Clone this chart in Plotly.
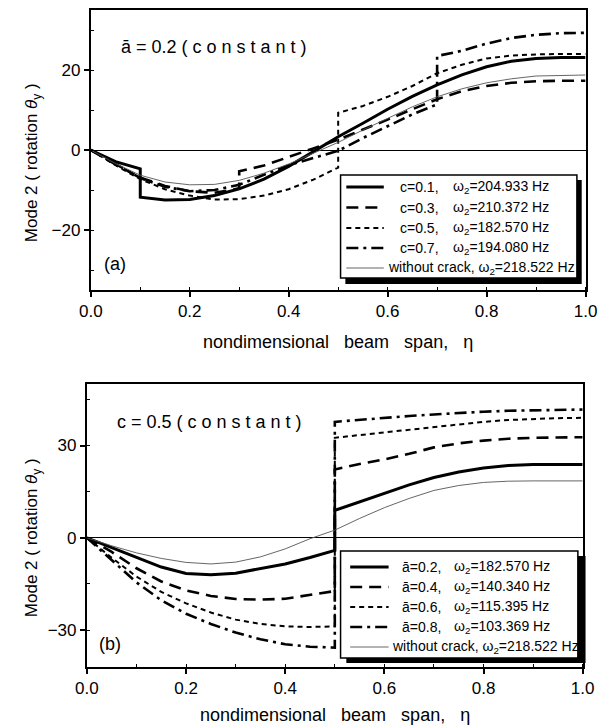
import plotly.graph_objects as go

# ---------------- data ----------------
ETA = [0.0, 0.05, 0.1, 0.15, 0.2, 0.25, 0.3, 0.35, 0.4, 0.45, 0.5,
       0.55, 0.6, 0.65, 0.7, 0.75, 0.8, 0.85, 0.9, 0.95, 1.0]

# Panel (a): a = 0.2 constant, crack location c varies
A_C01_X = [0.0, 0.05, 0.1, 0.1, 0.15, 0.2, 0.25, 0.3, 0.35, 0.4, 0.45, 0.5,
           0.55, 0.6, 0.65, 0.7, 0.75, 0.8, 0.85, 0.9, 0.95, 1.0]
A_C01_Y = [0, -2.9, -4.7, -11.8, -12.5, -12.4, -11.4, -9.7, -7.3, -4.1, -0.4, 3.3,
           6.7, 10.2, 13.4, 16.3, 18.8, 20.8, 22.2, 22.9, 23.1, 23.1]

A_C03_X = [0.0, 0.05, 0.1, 0.15, 0.2, 0.25, 0.3, 0.3, 0.35, 0.4, 0.45, 0.5,
           0.55, 0.6, 0.65, 0.7, 0.75, 0.8, 0.85, 0.9, 0.95, 1.0]
A_C03_Y = [0, -3.6, -6.9, -9.0, -10.3, -10.7, -9.6, -5.3, -3.9, -1.8, 0.4, 2.6,
           5.0, 7.6, 10.2, 12.7, 14.7, 16.0, 16.8, 17.2, 17.3, 17.3]

A_C05_X = [0.0, 0.05, 0.1, 0.15, 0.2, 0.25, 0.3, 0.35, 0.4, 0.45, 0.5, 0.5,
           0.55, 0.6, 0.65, 0.7, 0.75, 0.8, 0.85, 0.9, 0.95, 1.0]
A_C05_Y = [0, -3.8, -7.3, -9.8, -11.4, -12.4, -12.3, -11.4, -9.8, -7.4, -4.4, 9.3,
           11.0, 13.3, 16.0, 19.2, 21.3, 22.9, 23.6, 23.9, 24.0, 24.0]

A_C07_X = [0.0, 0.05, 0.1, 0.15, 0.2, 0.25, 0.3, 0.35, 0.4, 0.45, 0.5,
           0.55, 0.6, 0.65, 0.7, 0.7, 0.75, 0.8, 0.85, 0.9, 0.95, 1.0]
A_C07_Y = [0, -3.6, -7.0, -9.2, -10.3, -10.0, -8.7, -6.2, -3.8, -2.0, -0.2,
           3.0, 6.0, 8.9, 11.4, 23.5, 24.8, 26.6, 28.0, 28.8, 29.2, 29.3]

A_NOCRACK_Y = [0, -3.4, -6.3, -8.0, -8.7, -8.6, -7.6, -5.8, -3.5, -0.8, 1.9,
               5.0, 8.0, 10.8, 13.3, 15.3, 16.8, 17.8, 18.5, 18.7, 18.75]

A_LABELS = ["c=0.1,", "c=0.3,", "c=0.5,", "c=0.7,"]
A_FREQS = ["204.933", "210.372", "182.570", "194.080"]

# Panel (b): c = 0.5 constant, crack depth a varies
B_X = [0.0, 0.05, 0.1, 0.15, 0.2, 0.25, 0.3, 0.35, 0.4, 0.45, 0.5, 0.5,
       0.55, 0.6, 0.65, 0.7, 0.75, 0.8, 0.85, 0.9, 0.95, 1.0]
B_A02_Y = [0, -3.2, -6.5, -9.5, -11.6, -12.0, -11.5, -10.1, -8.5, -6.4, -4.1, 8.9,
           11.6, 14.4, 17.2, 19.6, 21.4, 22.7, 23.5, 23.8, 23.8, 23.8]
B_A04_Y = [0, -4.6, -9.9, -14.2, -17.1, -18.9, -19.9, -20.1, -19.8, -18.6, -17.3, 22.2,
           24.0, 25.5, 27.3, 29.4, 30.7, 31.6, 32.2, 32.5, 32.7, 32.7]
B_A06_Y = [0, -6.5, -12.6, -17.6, -21.3, -24.3, -26.6, -28.0, -28.8, -29.0, -28.8, 32.5,
           33.4, 34.3, 35.2, 36.1, 37.0, 37.7, 38.3, 38.7, 38.9, 39.0]
B_A08_Y = [0, -7.4, -14.5, -20.3, -24.7, -28.0, -30.8, -33.0, -34.6, -35.4, -35.7, 37.7,
           38.4, 39.0, 39.6, 40.1, 40.6, 41.0, 41.3, 41.5, 41.7, 41.7]
B_NOCRACK_Y = [0, -2.6, -4.9, -6.7, -8.0, -8.5, -7.9, -6.2, -3.6, -0.3, 2.5,
               6.3, 9.8, 12.8, 15.4, 17.0, 18.0, 18.4, 18.5, 18.5, 18.5]

B_LABELS = ["ā=0.2,", "ā=0.4,", "ā=0.6,", "ā=0.8,"]
B_FREQS = ["182.570", "140.340", "115.395", "103.369"]

NOCRACK_FREQ = "218.522"

X_TICKS = [0.0, 0.2, 0.4, 0.6, 0.8, 1.0]
A_Y_TICKS = [-20, 0, 20]
B_Y_TICKS = [-30, 0, 30]

# ---------------- layout helpers ----------------
OFF = 0          # body margin removed by post_script below
W, H = 611, 725
def fx(px):
    return (px - OFF) / W
def fy(py):
    return 1 - (py - OFF) / H

FONT = "Liberation Sans, Arial, sans-serif"
STYLES = [dict(color="black", width=3, dash="solid"),
          dict(color="black", width=2.6, dash="12px,7px"),
          dict(color="black", width=2, dash="5px,4px"),
          dict(color="black", width=2.6, dash="12px,5px,3px,5px"),
          dict(color="#555555", width=0.9, dash="solid")]

fig = go.Figure()

a_series = [(A_C01_X, A_C01_Y), (A_C03_X, A_C03_Y), (A_C05_X, A_C05_Y),
            (A_C07_X, A_C07_Y), (ETA, A_NOCRACK_Y)]
a_names = [f"{l} ω2={f} Hz" for l, f in zip(A_LABELS, A_FREQS)] + \
          [f"without crack, ω2={NOCRACK_FREQ} Hz"]
for (xs, ys), name, st in zip(a_series, a_names, STYLES):
    fig.add_trace(go.Scatter(x=xs, y=ys, mode="lines", name=name, line=st,
                             xaxis="x", yaxis="y", showlegend=False))

b_series = [(B_X, B_A02_Y), (B_X, B_A04_Y), (B_X, B_A06_Y), (B_X, B_A08_Y),
            (ETA, B_NOCRACK_Y)]
b_names = [f"{l} ω2={f} Hz" for l, f in zip(B_LABELS, B_FREQS)] + \
          [f"without crack, ω2={NOCRACK_FREQ} Hz"]
for (xs, ys), name, st in zip(b_series, b_names, STYLES):
    fig.add_trace(go.Scatter(x=xs, y=ys, mode="lines", name=name, line=st,
                             xaxis="x2", yaxis="y2", showlegend=False))

def xaxis(dom, anchor):
    return dict(domain=dom, anchor=anchor, range=[0, 1], tickvals=X_TICKS,
                ticktext=[f"{v:.1f}" for v in X_TICKS], ticks="outside", ticklen=5,
                tickwidth=1.5, tickcolor="black", showline=True, linewidth=2,
                linecolor="black", mirror=True, showgrid=False, zeroline=False,
                tickfont=dict(family=FONT, size=17, color="black"),
                minor=dict(dtick=0.1, tick0=0, ticks="inside", ticklen=3,
                           tickcolor="black", tickwidth=1))

def yaxis(dom, anchor, rng, ticks, mdt):
    return dict(domain=dom, anchor=anchor, range=rng, tickvals=ticks,
                ticks="outside", ticklen=5, tickwidth=1.5, tickcolor="black",
                showline=True, linewidth=2, linecolor="black", mirror=True,
                showgrid=False, zeroline=True, zerolinecolor="black",
                zerolinewidth=1, tickfont=dict(family=FONT, size=17, color="black"),
                minor=dict(dtick=mdt, tick0=0, ticks="inside", ticklen=3,
                           tickcolor="black", tickwidth=1))

ann = []
def text(t, px, py, size=17, xanchor="left", angle=0):
    ann.append(dict(text=t, x=fx(px), y=fy(py), xref="paper", yref="paper",
                    xanchor=xanchor, yanchor="middle", showarrow=False,
                    textangle=angle, font=dict(family=FONT, size=size, color="black")))

text("ā = 0.2 ( c o n s t a n t )", 111, 47, size=18)
text("(a)", 107, 264, size=18, xanchor="center")
text("c = 0.5 ( c o n s t a n t )", 107, 422, size=18)
text("(b)", 102, 644, size=18, xanchor="center")
SP = "\u00a0\u00a0\u00a0"
XT = f"nondimensional{SP}beam{SP}span,{SP}η"
text(XT, 339, 342, size=18, xanchor="center")
text(XT, 336, 715, size=18, xanchor="center")
YT = "Mode 2 ( rotation <i>θ</i><sub>y</sub> )"
text(YT, 22, 163, xanchor="center", angle=-90)
text(YT, 22, 538, xanchor="center", angle=-90)

shapes = []
def rect(x0, x1, y0, y1, fill, lw=0):
    shapes.append(dict(type="rect", xref="paper", yref="paper",
                       x0=fx(x0), x1=fx(x1), y0=fy(y1), y1=fy(y0),
                       fillcolor=fill, line=dict(color="black", width=lw),
                       layer="above"))

LEG_SIZE = 14
def legend_box(box, shadow, rows, sample_x, label_x, freq_x, nc_x, labels, freqs):
    rect(*shadow, "black")
    rect(*box, "white", 1.5)
    for i, st in enumerate(STYLES):
        py = rows[i]
        shapes.append(dict(type="line", xref="paper", yref="paper",
                           x0=fx(sample_x[0]), x1=fx(sample_x[1]),
                           y0=fy(py), y1=fy(py),
                           line=dict(color=st["color"], width=st["width"],
                                     dash=st["dash"]), layer="above"))
        if i < 4:
            text(labels[i], label_x, py, size=LEG_SIZE)
            text(f"ω<sub>2</sub>={freqs[i]} Hz", freq_x, py, size=LEG_SIZE)
        else:
            text(f"without crack, ω<sub>2</sub>={NOCRACK_FREQ} Hz", nc_x, py, size=LEG_SIZE)

legend_box((342, 588, 175, 278), (347, 593, 180, 284),
           [187, 207.5, 228, 248, 268], (348, 387), 402, 457, 389,
           A_LABELS, A_FREQS)
legend_box((342, 589, 551, 658), (348, 597, 556, 663),
           [567, 587, 607, 627, 647], (352, 392), 404, 458, 393,
           B_LABELS, B_FREQS)

fig.update_layout(
    width=W, height=H, margin=dict(l=0, r=0, t=0, b=0),
    paper_bgcolor="white", plot_bgcolor="white",
    font=dict(family=FONT, color="black"),
    xaxis=xaxis([fx(82), fx(597)], "y"),
    yaxis=yaxis([fy(290), fy(10)], "x", [-35, 35], A_Y_TICKS, 10),
    xaxis2=xaxis([fx(78), fx(594)], "y2"),
    yaxis2=yaxis([fy(667), fy(384)], "x2", [-42, 50], B_Y_TICKS, 15),
    annotations=ann, shapes=shapes, showlegend=False,
)

fig.write_html("out.html",
               config={"displayModeBar": False},
               post_script="document.body.style.margin='0px';"
                           "document.body.style.overflow='hidden';")
